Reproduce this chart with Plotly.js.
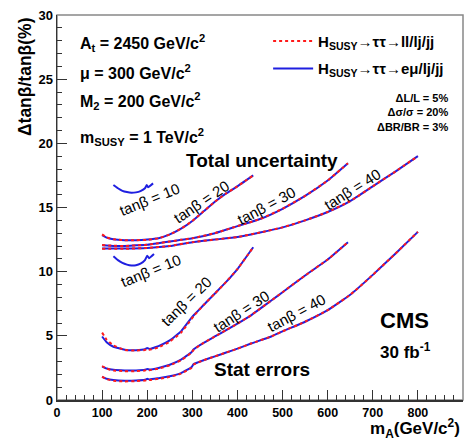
<!DOCTYPE html>
<html>
<head>
<meta charset="utf-8">
<script src="https://cdn.plot.ly/plotly-3.0.1.min.js"></script>
<style>html,body{margin:0;padding:0;background:#fff;}#chart{width:473px;height:442px;}</style>
</head>
<body>
<div id="chart"></div>
<script>
// ---- data ----
// Total uncertainty curves
const mA_tot10 = [125, 135, 145, 155, 165, 175, 185, 195, 199, 202, 213];
const tot10_emu = [16.75, 16.5, 16.3, 16.2, 16.15, 16.18, 16.28, 16.5, 16.75, 16.58, 16.88];

const mA_tot20 = [100, 110, 125, 150, 175, 200, 225, 250, 275, 300, 325, 350, 375, 400, 435];
const tot20_emu = [12.85, 12.65, 12.52, 12.45, 12.45, 12.5, 12.6, 12.9, 13.35, 13.95, 14.7, 15.45, 16.1, 16.65, 17.5];
const tot20_ll  = [12.9, 12.68, 12.52, 12.45, 12.45, 12.48, 12.6, 12.9, 13.35, 13.95, 14.7, 15.45, 16.1, 16.65, 17.5];

const mA_tot30 = [100, 125, 150, 175, 200, 225, 250, 275, 300, 350, 400, 450, 500, 550, 600, 645];
const tot30_emu = [12.05, 12.0, 12.0, 12.05, 12.1, 12.22, 12.35, 12.48, 12.6, 13.0, 13.55, 14.1, 14.9, 15.9, 17.1, 18.45];
const tot30_ll  = [12.08, 12.02, 12.0, 12.05, 12.1, 12.22, 12.35, 12.48, 12.6, 13.0, 13.55, 14.1, 14.9, 15.9, 17.1, 18.45];

const mA_tot40 = [100, 150, 200, 250, 300, 350, 400, 450, 500, 550, 600, 650, 700, 750, 800];
const tot40_emu = [11.8, 11.8, 11.85, 12.0, 12.3, 12.5, 12.7, 13.05, 13.45, 14.0, 14.65, 15.5, 16.65, 17.8, 19.0];
const tot40_ll  = [11.78, 11.78, 11.85, 12.0, 12.3, 12.5, 12.7, 13.05, 13.45, 14.0, 14.65, 15.5, 16.65, 17.8, 19.0];

// Statistical error curves
const mA_st10 = [125, 135, 145, 155, 165, 175, 185, 195, 200, 204, 215];
const st10_emu = [11.2, 10.9, 10.68, 10.55, 10.48, 10.5, 10.62, 10.9, 11.25, 11.05, 11.38];

const mA_st20 = [100, 110, 125, 150, 175, 195, 200, 205, 225, 250, 275, 298, 303, 325, 350, 375, 400, 435];
const st20_emu = [4.95, 4.5, 4.15, 3.92, 3.88, 3.95, 4.05, 3.98, 4.2, 4.65, 5.35, 6.4, 6.6, 7.4, 8.3, 9.2, 10.2, 11.9];
const st20_ll  = [5.25, 4.7, 4.25, 3.9, 3.85, 3.9, 3.98, 3.92, 4.1, 4.55, 5.25, 6.3, 6.55, 7.4, 8.3, 9.2, 10.2, 11.9];

const mA_st30 = [100, 110, 125, 150, 175, 195, 200, 205, 225, 250, 275, 298, 303, 325, 350, 375, 400, 430, 475, 500, 550, 600, 645];
const st30_emu = [2.6, 2.45, 2.35, 2.3, 2.3, 2.35, 2.42, 2.37, 2.5, 2.75, 3.15, 3.72, 3.95, 4.45, 4.95, 5.45, 5.95, 6.6, 7.75, 8.4, 9.7, 10.95, 12.3];
const st30_ll  = [2.65, 2.45, 2.3, 2.25, 2.25, 2.3, 2.36, 2.32, 2.45, 2.7, 3.1, 3.68, 3.92, 4.45, 4.95, 5.45, 5.95, 6.6, 7.75, 8.4, 9.7, 10.95, 12.3];

const mA_st40 = [100, 110, 125, 150, 175, 195, 200, 205, 225, 250, 275, 298, 303, 325, 350, 375, 400, 430, 475, 500, 550, 600, 650, 700, 750, 800];
const st40_emu = [1.8, 1.65, 1.55, 1.5, 1.52, 1.58, 1.65, 1.6, 1.7, 1.85, 2.1, 2.55, 2.8, 3.1, 3.4, 3.7, 4.0, 4.4, 4.95, 5.35, 6.1, 7.0, 8.2, 9.75, 11.4, 13.1];
const st40_ll  = [1.82, 1.62, 1.5, 1.45, 1.47, 1.52, 1.57, 1.55, 1.65, 1.8, 2.05, 2.5, 2.76, 3.1, 3.4, 3.7, 4.0, 4.4, 4.95, 5.35, 6.1, 7.0, 8.2, 9.75, 11.4, 13.1];

const legendNames = ['<b>H<sub>SUSY</sub>→ττ→ll/lj/jj</b>', '<b>H<sub>SUSY</sub>→ττ→eμ/lj/jj</b>'];
const xTickVals = [0, 100, 200, 300, 400, 500, 600, 700, 800, 900];
const yTickVals = [0, 5, 10, 15, 20, 25, 30];

// ---- styling ----
const FONT = 'Liberation Sans, Arial, Helvetica, sans-serif';
const BLUE = '#1f1fe0';
const RED = '#ff1a1a';

function blue(x, y, show) {
  return {x: x, y: y, type: 'scatter', mode: 'lines', name: legendNames[1],
    legendgroup: 'emu', legendrank: 2, showlegend: !!show,
    line: {color: BLUE, width: 2, shape: 'spline', smoothing: 0.35}, hoverinfo: 'skip'};
}
function red(x, y, show) {
  return {x: x, y: y, type: 'scatter', mode: 'lines', name: legendNames[0],
    legendgroup: 'll', legendrank: 1, showlegend: !!show,
    line: {color: RED, width: 2, dash: 'dot', shape: 'spline', smoothing: 0.35}, hoverinfo: 'skip'};
}

const traces = [
  blue(mA_tot10, tot10_emu, false),
  blue(mA_tot20, tot20_emu, true),
  blue(mA_tot30, tot30_emu),
  blue(mA_tot40, tot40_emu),
  blue(mA_st10, st10_emu),
  blue(mA_st20, st20_emu),
  blue(mA_st30, st30_emu),
  blue(mA_st40, st40_emu),
  red(mA_tot20, tot20_ll, true),
  red(mA_tot30, tot30_ll),
  red(mA_tot40, tot40_ll),
  red(mA_st20, st20_ll),
  red(mA_st30, st30_ll),
  red(mA_st40, st40_ll)
];

function txt(text, x, y, size, opts) {
  return Object.assign({text: text, x: x, y: y, xref: 'x', yref: 'y', showarrow: false,
    xanchor: 'left', yanchor: 'middle', font: {family: FONT, size: size, color: '#000'}}, opts || {});
}
function curveLabel(text, x, y, angle) {
  return {text: text, x: x, y: y, xref: 'x', yref: 'y', showarrow: false, textangle: angle,
    xanchor: 'center', yanchor: 'middle', font: {family: FONT, size: 15, color: '#000'}};
}

const annotations = [
  txt('<b>A<sub>t</sub> = 2450 GeV/c<sup>2</sup></b>', 46, 27.8, 16),
  txt('<b>μ = 300 GeV/c<sup>2</sup></b>', 46, 25.55, 16),
  txt('<b>M<sub>2</sub> = 200 GeV/c<sup>2</sup></b>', 46, 23.3, 16),
  txt('<b>m<sub>SUSY</sub> = 1 TeV/c<sup>2</sup></b>', 46, 20.5, 16),
  txt('<b>ΔL/L = 5%<br>Δσ/σ = 20%<br>ΔBR/BR = 3%</b>', 871, 22.4, 11, {xanchor: 'right', align: 'right'}),
  txt('<b>Total uncertainty</b>', 281, 18.7, 19),
  txt('<b>Stat errors</b>', 343, 2.4, 19),
  txt('<b>CMS</b>', 711, 6.2, 22),
  txt('<b>30 fb<sup>-1</sup></b>', 711, 3.8, 17),
  curveLabel('tanβ = 10', 204, 15.6, -22),
  curveLabel('tanβ = 20', 321, 15.43, -34),
  curveLabel('tanβ = 30', 465, 15.12, -28),
  curveLabel('tanβ = 40', 654, 16.37, -32),
  curveLabel('tanβ = 10', 208, 10.13, -22),
  curveLabel('tanβ = 20', 286, 7.64, -44),
  curveLabel('tanβ = 30', 408, 6.86, -33),
  curveLabel('tanβ = 40', 532, 6.78, -28),
  {text: '<b>Δtanβ/tanβ(%)</b>', xref: 'paper', yref: 'paper', x: -0.08, y: 1, xanchor: 'center', yanchor: 'top',
    textangle: -90, showarrow: false, font: {family: FONT, size: 17.5, color: '#000'}},
  {text: '<b>m<sub>A</sub>(GeV/c<sup>2</sup>)</b>', xref: 'paper', yref: 'paper', x: 0.9975, y: -0.073, xanchor: 'right', yanchor: 'middle',
    showarrow: false, font: {family: FONT, size: 17, color: '#000'}}
];

const layout = {
  width: 473, height: 442,
  margin: {l: 57, r: 10, t: 15, b: 42, pad: 0},
  paper_bgcolor: '#fff', plot_bgcolor: '#fff',
  showlegend: true,
  legend: {x: 0.52, y: 0.975, xanchor: 'left', yanchor: 'top', bgcolor: 'rgba(0,0,0,0)',
    font: {family: FONT, size: 15, color: '#000'}, traceorder: 'grouped', tracegroupgap: 5, itemwidth: 40},
  xaxis: {range: [0, 900], tickvals: xTickVals, ticktext: xTickVals.map(String), ticks: 'inside', ticklen: 10, tickwidth: 1,
    tickcolor: '#333', showgrid: false, zeroline: false, showline: true, linecolor: '#333', linewidth: 1.5,
    tickfont: {family: FONT, size: 12.5, color: '#000', weight: 'bold'},
    minor: {dtick: 20, ticks: 'inside', ticklen: 5, tickcolor: '#333', tickwidth: 1, showgrid: false}},
  yaxis: {range: [0, 30], tickvals: yTickVals, ticktext: yTickVals.map(String), ticks: 'inside', ticklen: 10, tickwidth: 1,
    tickcolor: '#333', showgrid: false, zeroline: false, showline: true, linecolor: '#333', linewidth: 1.5,
    tickfont: {family: FONT, size: 13, color: '#000', weight: 'bold'},
    minor: {dtick: 1, ticks: 'inside', ticklen: 5, tickcolor: '#333', tickwidth: 1, showgrid: false}},
  shapes: [{type: 'rect', xref: 'paper', yref: 'paper', x0: 0, y0: 0, x1: 1, y1: 1,
    line: {color: '#888', width: 1.5}, layer: 'below'}],
  annotations: annotations
};

Plotly.newPlot('chart', traces, layout, {staticPlot: true, displayModeBar: false});
</script>
</body>
</html>
